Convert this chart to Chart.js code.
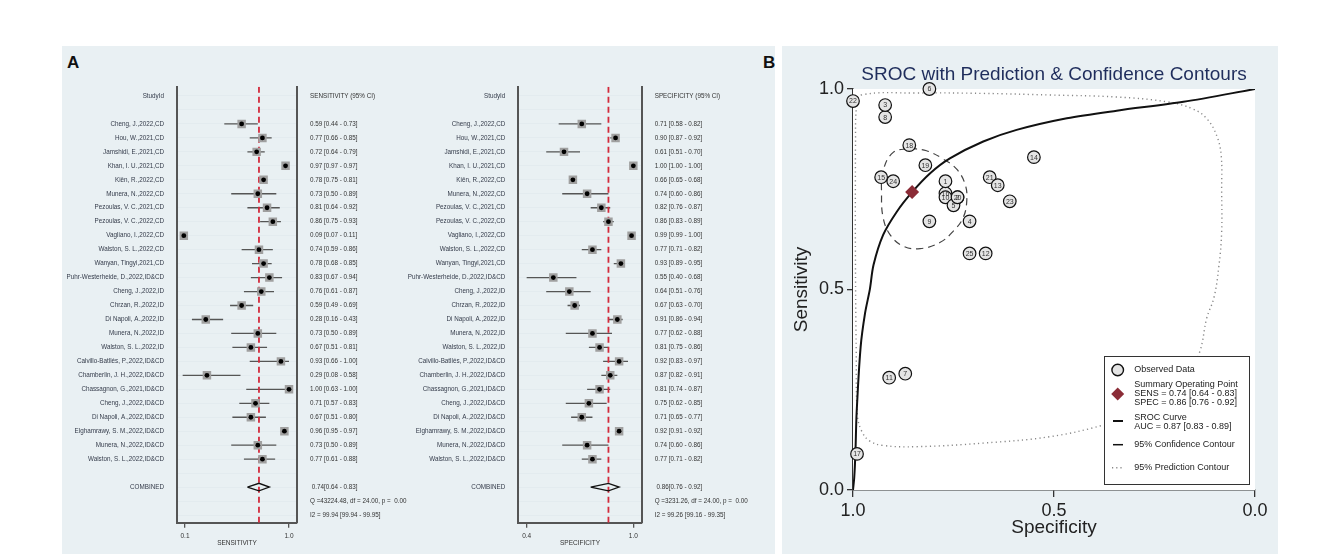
<!DOCTYPE html>
<html>
<head>
<meta charset="utf-8">
<script src="https://cdn.jsdelivr.net/npm/chart.js@4.4.0/dist/chart.umd.min.js"></script>
<style>
  body { margin: 0; width: 1333px; height: 554px; overflow: hidden; position: relative; background: #fff;
         font-family: "Liberation Sans", Arial, sans-serif; }
  .panel { position: absolute; background: #e9f0f3; }
  .tag { position: absolute; font-weight: bold; font-size: 17px; line-height: 17px; color: #111; }
  canvas { position: absolute; }
</style>
</head>
<body>
<div class="panel" style="left:62px; top:46px; width:713px; height:508px;"></div>
<div class="panel" style="left:782px; top:46px; width:496px; height:508px;"></div>
<div class="tag" style="left:67px; top:54px;">A</div>
<div class="tag" style="left:763px; top:54px;">B</div>
<canvas id="sensChart" width="360" height="480" style="left:62px; top:70px;"></canvas>
<canvas id="specChart" width="375" height="480" style="left:400px; top:70px;"></canvas>
<canvas id="srocChart" width="493" height="505" style="left:785px; top:47px;"></canvas>

<script>
const FONT = '"Liberation Sans", Arial, sans-serif'

// studies, in the order of the forest plots
const studyNames = [
    'Cheng, J.,2022,CD', 'Hou, W.,2021,CD', 'Jamshidi, E.,2021,CD', 'Khan, I. U.,2021,CD',
    'Kiên, R.,2022,CD', 'Munera, N.,2022,CD', 'Pezoulas, V. C.,2021,CD', 'Pezoulas, V. C.,2022,CD',
    'Vagliano, I.,2022,CD', 'Walston, S. L.,2022,CD', 'Wanyan, Tingyi,2021,CD',
    'Puhr-Westerheide, D.,2022,ID&CD', 'Cheng, J.,2022,ID', 'Chrzan, R.,2022,ID',
    'Di Napoli, A.,2022,ID', 'Munera, N.,2022,ID', 'Walston, S. L.,2022,ID',
    'Calvillo-Batllés, P.,2022,ID&CD', 'Chamberlin, J. H.,2022,ID&CD', 'Chassagnon, G.,2021,ID&CD',
    'Cheng, J.,2022,ID&CD', 'Di Napoli, A.,2022,ID&CD', 'Elghamrawy, S. M.,2022,ID&CD',
    'Munera, N.,2022,ID&CD', 'Walston, S. L.,2022,ID&CD'
]

const sensEst  = [0.59, 0.77, 0.72, 0.97, 0.78, 0.73, 0.81, 0.86, 0.09, 0.74, 0.78, 0.83, 0.76, 0.59, 0.28, 0.73, 0.67, 0.93, 0.29, 1.00, 0.71, 0.67, 0.96, 0.73, 0.77]
const sensLow  = [0.44, 0.66, 0.64, 0.97, 0.75, 0.50, 0.64, 0.75, 0.07, 0.59, 0.68, 0.67, 0.61, 0.49, 0.16, 0.50, 0.51, 0.66, 0.08, 0.63, 0.57, 0.51, 0.95, 0.50, 0.61]
const sensHigh = [0.73, 0.85, 0.79, 0.97, 0.81, 0.89, 0.92, 0.93, 0.11, 0.86, 0.85, 0.94, 0.87, 0.69, 0.43, 0.89, 0.81, 1.00, 0.58, 1.00, 0.83, 0.80, 0.97, 0.89, 0.88]

const specEst  = [0.71, 0.90, 0.61, 1.00, 0.66, 0.74, 0.82, 0.86, 0.99, 0.77, 0.93, 0.55, 0.64, 0.67, 0.91, 0.77, 0.81, 0.92, 0.87, 0.81, 0.75, 0.71, 0.92, 0.74, 0.77]
const specLow  = [0.58, 0.87, 0.51, 1.00, 0.65, 0.60, 0.76, 0.83, 0.99, 0.71, 0.89, 0.40, 0.51, 0.63, 0.86, 0.62, 0.75, 0.83, 0.82, 0.74, 0.62, 0.65, 0.91, 0.60, 0.71]
const specHigh = [0.82, 0.92, 0.70, 1.00, 0.68, 0.86, 0.87, 0.89, 1.00, 0.82, 0.95, 0.68, 0.76, 0.70, 0.94, 0.88, 0.86, 0.97, 0.91, 0.87, 0.85, 0.77, 0.92, 0.86, 0.82]

// pooled estimate [est, low, high] and heterogeneity lines
const pooledSens = [0.74, 0.64, 0.83]
const pooledSpec = [0.86, 0.76, 0.92]
const sensStats = ['Q =43224.48, df = 24.00, p =  0.00', 'I2 = 99.94 [99.94 - 99.95]']
const specStats = ['Q =3231.26, df = 24.00, p =  0.00', 'I2 = 99.26 [99.16 - 99.35]']
const sensTicks = [0.1, 1.0]
const specTicks = [0.4, 1.0]

// SROC panel: point numbers, summary point, curve and contours (specificity, sensitivity)
const srocIds = [25, 24, 23, 22, 21, 20, 19, 18, 17, 16, 15, 14, 13, 12, 11, 10, 9, 8, 7, 6, 5, 4, 3, 2, 1]
const summaryPoint = [0.853, 0.743]
const curveSpec = [1.0, 0.997, 0.994, 0.991, 0.981, 0.970, 0.958, 0.949, 0.925, 0.891, 0.852, 0.808, 0.759, 0.676, 0.593, 0.468, 0.344, 0.178, 0.0]
const curveSens = [0.0, 0.03, 0.092, 0.192, 0.357, 0.441, 0.501, 0.561, 0.636, 0.694, 0.744, 0.790, 0.827, 0.869, 0.898, 0.927, 0.946, 0.968, 1.0]
const confSpec = [0.858, 0.817, 0.775, 0.742, 0.721, 0.717, 0.726, 0.750, 0.784, 0.833, 0.875, 0.908, 0.925, 0.929, 0.925, 0.900, 0.858]
const confSens = [0.852, 0.846, 0.825, 0.800, 0.762, 0.721, 0.679, 0.646, 0.617, 0.602, 0.608, 0.637, 0.679, 0.737, 0.796, 0.842, 0.852]
const predSpec = [0.994, 0.991, 0.980, 0.842, 0.676, 0.510, 0.344, 0.219, 0.154, 0.119, 0.095, 0.084, 0.083, 0.083, 0.090, 0.102, 0.120, 0.137, 0.175, 0.260, 0.377, 0.510, 0.676, 0.842, 0.925, 0.958, 0.978, 0.989, 0.992, 0.994, 0.994]
const predSens = [0.846, 0.960, 0.985, 0.990, 0.989, 0.985, 0.980, 0.968, 0.950, 0.925, 0.883, 0.833, 0.750, 0.642, 0.557, 0.480, 0.429, 0.346, 0.260, 0.200, 0.162, 0.133, 0.117, 0.108, 0.111, 0.122, 0.146, 0.187, 0.346, 0.596, 0.846]

const fmt = v => v.toFixed(2)

function buildForest(canvasId, est, low, high, pooled, stats, header, axisTitle, xMin, xMax, xTicks, leftW, rightW) {
    const firstRow = 2
    const combinedRow = 28
    const rows = []
    for (let r = 0; r <= 30; r++) rows.push(r)

    const leftText = { 0: 'StudyId', [combinedRow]: 'COMBINED' }
    const rightText = {
        0: header,
        [combinedRow]: ' ' + fmt(pooled[0]) + '[' + fmt(pooled[1]) + ' - ' + fmt(pooled[2]) + ']',
        29: stats[0],
        30: stats[1]
    }
    studyNames.forEach((name, i) => {
        leftText[firstRow + i] = name
        rightText[firstRow + i] = fmt(est[i]) + ' [' + fmt(low[i]) + ' - ' + fmt(high[i]) + ']'
    })

    const ciData = []
    est.forEach((v, i) => {
        ciData.push({ x: low[i], y: firstRow + i }, { x: high[i], y: firstRow + i }, { x: null, y: null })
    })
    const points = est.map((v, i) => ({ x: v, y: firstRow + i }))
    const half = 0.27
    const diamond = [
        { x: pooled[1], y: combinedRow }, { x: pooled[0], y: combinedRow - half },
        { x: pooled[2], y: combinedRow }, { x: pooled[0], y: combinedRow + half },
        { x: pooled[1], y: combinedRow }
    ]
    const yMin = -0.66
    const yMax = 30.55

    const tickFont = { family: FONT, size: 6.3 }

    return new Chart(document.getElementById(canvasId), {
        type: 'scatter',
        data: {
            datasets: [
                { data: points, pointStyle: 'circle', pointRadius: 2.4, backgroundColor: '#000', borderWidth: 0, order: 0 },
                { data: points, pointStyle: 'rect', pointRadius: 6, backgroundColor: '#a0a0a0', borderWidth: 0, order: 1 },
                { data: diamond, showLine: true, pointRadius: 0, borderColor: '#111', borderWidth: 1.3, order: 2 },
                { data: [{ x: pooled[0], y: yMin }, { x: pooled[0], y: yMax }], showLine: true, pointRadius: 0,
                  borderColor: '#d3293b', borderWidth: 1.8, borderDash: [6, 4], order: 3 },
                { data: ciData, showLine: true, spanGaps: false, pointRadius: 0, borderColor: '#555', borderWidth: 1.3, order: 4 }
            ]
        },
        options: {
            responsive: false,
            animation: false,
            layout: { padding: { top: 11.7, left: 0, right: 0, bottom: 0 } },
            plugins: { legend: { display: false }, tooltip: { enabled: false } },
            scales: {
                x: {
                    type: 'linear', min: xMin, max: xMax,
                    afterBuildTicks: s => { s.ticks = xTicks.map(v => ({ value: v })) },
                    afterFit: s => { s.height = 27.3 },
                    grid: { drawOnChartArea: false, drawTicks: true, tickLength: 5, color: '#555', lineWidth: 1.3 },
                    border: { display: true, color: '#555', width: 2 },
                    ticks: { font: { family: FONT, size: 6.5 }, color: '#333', padding: 5, maxRotation: 0,
                             callback: v => v.toFixed(1) },
                    title: { display: true, text: axisTitle, font: { family: FONT, size: 6.5 }, color: '#333',
                             padding: { top: 0, bottom: 3 } }
                },
                y: {
                    type: 'linear', position: 'left', reverse: true, min: yMin, max: yMax,
                    afterBuildTicks: s => { s.ticks = rows.map(v => ({ value: v })) },
                    afterFit: s => { s.width = leftW },
                    grid: { color: '#e3ebef', lineWidth: 1, drawTicks: false },
                    border: { display: true, color: '#555', width: 2 },
                    ticks: { autoSkip: false, font: tickFont, color: '#343b4a', padding: 13,
                             callback: v => leftText[v] || '' }
                },
                y2: {
                    type: 'linear', position: 'right', reverse: true, min: yMin, max: yMax,
                    afterBuildTicks: s => { s.ticks = rows.map(v => ({ value: v })) },
                    afterFit: s => { s.width = rightW },
                    grid: { drawOnChartArea: false, drawTicks: false },
                    border: { display: true, color: '#555', width: 2 },
                    ticks: { autoSkip: false, font: tickFont, color: '#333', padding: 13,
                             callback: v => rightText[v] || '' }
                }
            }
        }
    })
}

buildForest('sensChart', sensEst, sensLow, sensHigh, pooledSens, sensStats,
    'SENSITIVITY (95% CI)', 'SENSITIVITY', 0.031, 1.069, sensTicks, 115, 125)
buildForest('specChart', specEst, specLow, specHigh, pooledSpec, specStats,
    'SPECIFICITY (95% CI)', 'SPECIFICITY', 0.353, 1.047, specTicks, 118.3, 133.3)

// numbers inside the observed-data circles, the title and the legend box
const srocDecor = {
    id: 'srocDecor',
    afterDatasetsDraw(chart) {
        const ctx = chart.ctx
        const meta = chart.getDatasetMeta(1)
        ctx.save()
        ctx.font = '7px ' + FONT
        ctx.fillStyle = '#333'
        ctx.textAlign = 'center'
        ctx.textBaseline = 'middle'
        meta.data.forEach((pt, i) => ctx.fillText(String(srocIds[i]), pt.x, pt.y + 0.5))
        ctx.restore()
    },
    afterDraw(chart) {
        const ctx = chart.ctx
        const area = chart.chartArea
        ctx.save()
        ctx.font = '19px ' + FONT
        ctx.fillStyle = '#1f2d5c'
        ctx.textAlign = 'center'
        ctx.textBaseline = 'middle'
        ctx.fillText('SROC with Prediction & Confidence Contours', (area.left + area.right) / 2, 28)

        const w = 145, h = 128
        const L = area.right - 6 - w
        const T = area.bottom - 6 - h
        ctx.fillStyle = '#fff'
        ctx.fillRect(L, T, w, h)
        ctx.strokeStyle = '#333'
        ctx.lineWidth = 1
        ctx.strokeRect(L + 0.5, T + 0.5, w, h)

        ctx.beginPath()
        ctx.arc(L + 13.7, T + 14, 5.8, 0, Math.PI * 2)
        ctx.fillStyle = '#e4e4e4'
        ctx.fill()
        ctx.lineWidth = 1.4
        ctx.strokeStyle = '#111'
        ctx.stroke()

        ctx.beginPath()
        ctx.moveTo(L + 13.7, T + 31.5)
        ctx.lineTo(L + 20.2, T + 38)
        ctx.lineTo(L + 13.7, T + 44.5)
        ctx.lineTo(L + 7.2, T + 38)
        ctx.closePath()
        ctx.fillStyle = '#8b2c37'
        ctx.fill()

        ctx.strokeStyle = '#111'
        ctx.lineWidth = 2
        ctx.beginPath(); ctx.moveTo(L + 9, T + 65); ctx.lineTo(L + 19, T + 65); ctx.stroke()
        ctx.lineWidth = 1.5
        ctx.beginPath(); ctx.moveTo(L + 9, T + 88.7); ctx.lineTo(L + 19, T + 88.7); ctx.stroke()
        ctx.strokeStyle = '#888'
        ctx.setLineDash([1.2, 3])
        ctx.beginPath(); ctx.moveTo(L + 8, T + 111.7); ctx.lineTo(L + 19, T + 111.7); ctx.stroke()
        ctx.setLineDash([])

        ctx.font = '9px ' + FONT
        ctx.fillStyle = '#222'
        ctx.textAlign = 'left'
        const tx = L + 30.3
        const lines = [
            ['Observed Data', 14], ['Summary Operating Point', 29], ['SENS = 0.74 [0.64 - 0.83]', 37.5],
            ['SPEC = 0.86 [0.76 - 0.92]', 46.5], ['SROC Curve', 61.3], ['AUC = 0.87 [0.83 - 0.89]', 70.3],
            ['95% Confidence Contour', 88.7], ['95% Prediction Contour', 111.7]
        ]
        lines.forEach(([t, y]) => ctx.fillText(t, tx, T + y))
        ctx.restore()
    },
    beforeDatasetsDraw(chart) {
        const { ctx, chartArea: a } = chart
        ctx.save()
        ctx.fillStyle = '#fff'
        ctx.fillRect(a.left, a.top, a.right - a.left, a.bottom - a.top)
        ctx.restore()
    }
}

const toXY = (xs, ys) => xs.map((x, i) => ({ x: x, y: ys[i] }))

new Chart(document.getElementById('srocChart'), {
    type: 'scatter',
    data: {
        datasets: [
            { label: 'Summary Operating Point', data: [{ x: summaryPoint[0], y: summaryPoint[1] }],
              pointStyle: 'rectRot', pointRadius: 7, backgroundColor: '#8b2c37', borderWidth: 0, clip: false, order: 0 },
            { label: 'Observed Data', data: toXY(specEst, sensEst), pointRadius: 6.3,
              backgroundColor: '#e4e4e4', borderColor: '#111', borderWidth: 1.2, clip: false, order: 1 },
            { label: 'SROC Curve', data: toXY(curveSpec, curveSens), showLine: true, pointRadius: 0,
              borderColor: '#111', borderWidth: 2, tension: 0.3, order: 2 },
            { label: '95% Confidence Contour', data: toXY(confSpec, confSens), showLine: true, pointRadius: 0,
              borderColor: '#444', borderWidth: 1.2, borderDash: [7, 5], tension: 0.4, order: 3 },
            { label: '95% Prediction Contour', data: toXY(predSpec, predSens), showLine: true, pointRadius: 0,
              borderColor: '#888', borderWidth: 1.4, borderDash: [1.2, 3.2], tension: 0.4, order: 4 }
        ]
    },
    options: {
        responsive: false,
        animation: false,
        layout: { padding: { top: 42, left: 0, right: 23, bottom: 0 } },
        plugins: { legend: { display: false }, tooltip: { enabled: false } },
        scales: {
            x: {
                type: 'linear', min: 0, max: 1, reverse: true,
                afterFit: s => { s.height = 62 },
                grid: { drawOnChartArea: false, drawTicks: true, tickLength: 7, color: '#333', lineWidth: 1.3 },
                border: { display: true, color: '#333', width: 1.5 },
                ticks: { stepSize: 0.5, font: { family: FONT, size: 18 }, color: '#222', padding: 3,
                         maxRotation: 0, callback: v => v.toFixed(1) },
                title: { display: true, text: 'Specificity', font: { family: FONT, size: 19 }, color: '#222',
                         padding: { top: 0, bottom: 13 } }
            },
            y: {
                type: 'linear', min: 0, max: 1,
                afterFit: s => { s.width = 68 },
                grid: { drawOnChartArea: false, drawTicks: true, tickLength: 6, color: '#333', lineWidth: 1.3 },
                border: { display: true, color: '#333', width: 1.5 },
                ticks: { stepSize: 0.5, font: { family: FONT, size: 18 }, color: '#222', padding: 3,
                         callback: v => v.toFixed(1) },
                title: { display: true, text: 'Sensitivity', font: { family: FONT, size: 19 }, color: '#222',
                         padding: { top: 5, bottom: 0 } }
            }
        }
    },
    plugins: [srocDecor]
})
</script>
</body>
</html>
